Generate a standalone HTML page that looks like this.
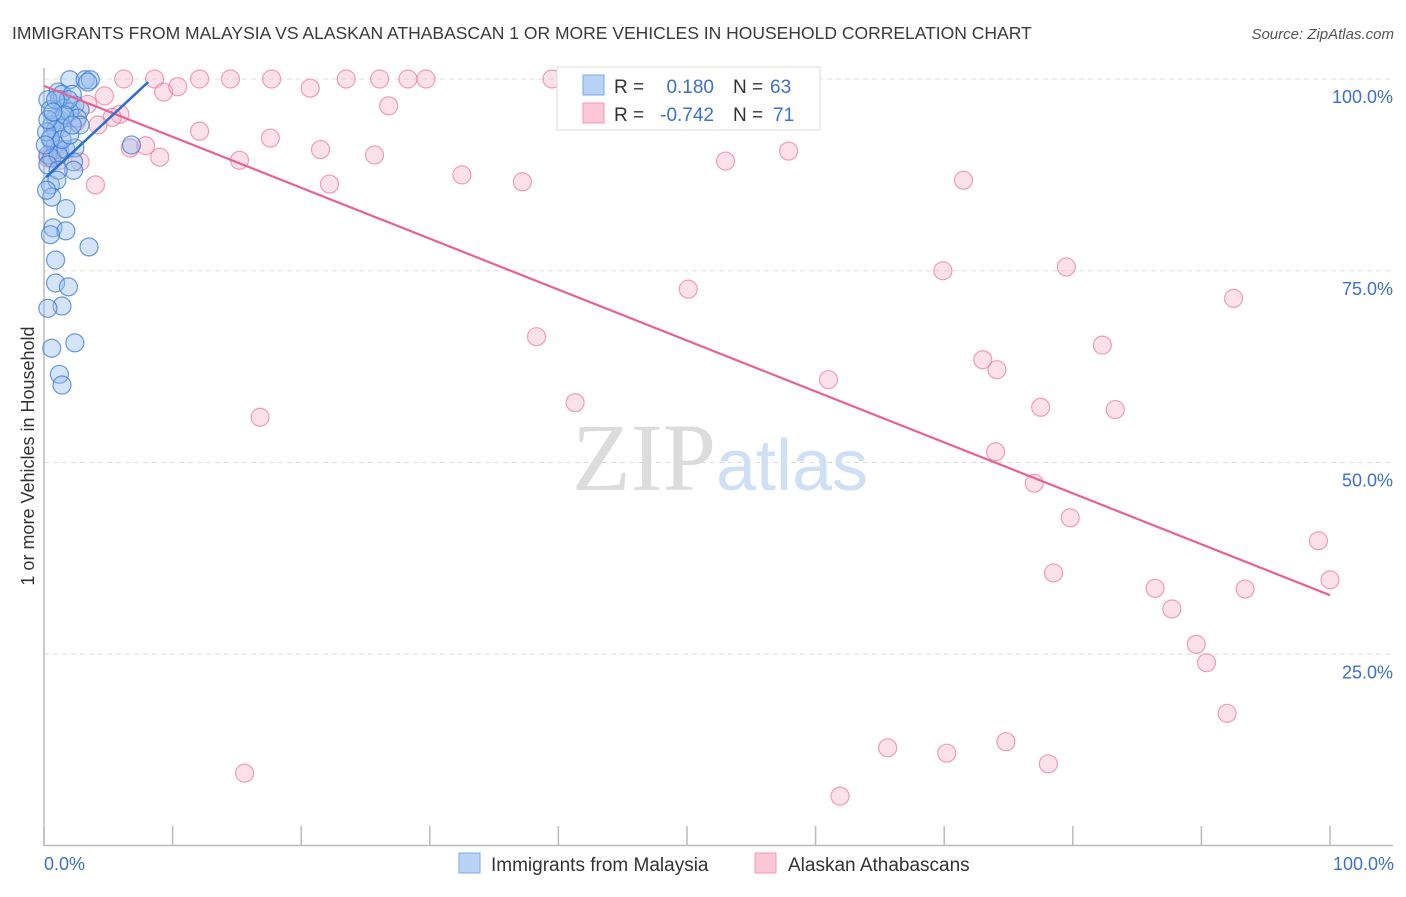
<!DOCTYPE html>
<html><head><meta charset="utf-8"><style>
body{margin:0;background:#fff;font-family:"Liberation Sans",sans-serif;}
svg text{font-family:"Liberation Sans",sans-serif;}
</style></head><body>
<svg id="chart" width="1406" height="892" xmlns="http://www.w3.org/2000/svg">
<text x="12" y="39" font-size="17.5" fill="#3a3a3a">IMMIGRANTS FROM MALAYSIA VS ALASKAN ATHABASCAN 1 OR MORE VEHICLES IN HOUSEHOLD CORRELATION CHART</text>
<text x="1394" y="39" font-size="15" fill="#555" text-anchor="end" font-style="italic">Source: ZipAtlas.com</text>
<text x="720" y="490" font-size="96" text-anchor="middle"><tspan fill="#dcdcdc" font-family="Liberation Serif">ZIP</tspan><tspan fill="#cfe0f5" font-size="72">atlas</tspan></text>
<g id="grid"></g>
<g id="axes"></g>
<g id="pts"></g>
<g id="lines"></g>
<text transform="translate(34,456) rotate(-90)" font-size="18" fill="#333" text-anchor="middle">1 or more Vehicles in Household</text>
<text x="44" y="870" font-size="18" fill="#3c6fd0">0.0%</text>
<text x="1394" y="870" font-size="18" fill="#3c6fd0" text-anchor="end">100.0%</text>
<g>
<rect x="557" y="67" width="263" height="63" fill="#fff" stroke="#ddd"/>
<rect x="583" y="75" width="21" height="20" fill="#b8d3f5" stroke="#7aa8e8"/>
<rect x="583" y="103" width="21" height="20" fill="#fcc7d6" stroke="#f09ab4"/>
<text x="614" y="93" font-size="19" fill="#333">R = </text><text x="714" y="93" font-size="19" fill="#3c6fd0" text-anchor="end">0.180</text>
<text x="733" y="93" font-size="19" fill="#333">N = </text><text x="770" y="93" font-size="19" fill="#3c6fd0">63</text>
<text x="614" y="121" font-size="19" fill="#333">R = </text><text x="714" y="121" font-size="19" fill="#3c6fd0" text-anchor="end">-0.742</text>
<text x="733" y="121" font-size="19" fill="#333">N = </text><text x="773" y="121" font-size="19" fill="#3c6fd0">71</text>
</g>
<g>
<rect x="459" y="853" width="21" height="20" fill="#b8d3f5" stroke="#7aa8e8"/>
<text x="491" y="871" font-size="19" fill="#333">Immigrants from Malaysia</text>
<rect x="755" y="853" width="21" height="20" fill="#fcc7d6" stroke="#f09ab4"/>
<text x="788" y="871" font-size="19" fill="#333">Alaskan Athabascans</text>
</g>
</svg>
<script>
const yTicks=[25,50,75,100];
const yTickLabels=["25.0%","50.0%","75.0%","100.0%"];
const xTicks=[0,10,20,30,40,50,60,70,80,90,100];
const blueX=[2.0,3.2,3.6,3.4,1.1,1.4,2.2,1.2,1.6,2.4,2.8,0.9,1.2,2.0,2.6,0.6,0.9,1.4,0.5,0.9,1.2,0.3,0.6,1.1,1.7,0.5,0.2,2.4,2.3,2.3,0.3,0.5,0.6,1.7,0.7,1.7,0.5,3.5,0.9,0.9,1.9,1.4,0.3,2.4,0.6,1.2,1.4,6.8,2.8,1.9,0.3,0.5,0.9,1.6,1.1,1.4,2.0,0.1,0.3,0.7,2.2,1.0,0.2];
const blueY=[99.9,99.9,99.9,99.6,98.3,98.0,98.0,97.3,96.2,96.6,96.0,94.9,94.7,95.7,94.9,94.0,93.4,93.6,92.1,91.4,90.8,90.1,89.7,90.1,90.8,92.3,93.1,91.0,89.2,88.1,88.8,86.2,84.6,83.1,80.6,80.2,79.7,78.1,76.4,73.4,72.9,70.4,70.1,65.6,64.9,61.5,60.1,91.4,94.0,97.3,97.3,96.0,97.3,95.3,88.1,92.1,92.7,91.4,94.7,95.7,94.0,86.8,85.5];
const pinkX=[6.2,8.6,12.1,14.5,17.7,23.5,26.1,28.3,29.7,39.5,9.3,10.4,4.7,3.4,5.9,5.3,4.2,2.5,12.1,17.6,6.7,7.9,9.0,15.2,21.5,25.7,2.8,4.0,22.2,32.5,37.2,53.0,57.9,71.5,20.7,26.8,69.9,79.5,92.5,50.1,38.3,73.0,74.1,82.3,61.0,41.3,16.8,77.5,83.3,74.0,77.0,79.8,99.1,100,78.5,86.4,93.4,87.7,89.6,90.4,92.0,65.6,70.2,74.8,78.1,61.9,15.6,0.5,0.9,1.2,0.3];
const pinkY=[100,100,100,100,100,100,100,100,100,100,98.3,99.0,97.8,96.7,95.4,95.0,94.0,94.4,93.2,92.3,91.0,91.3,89.8,89.4,90.8,90.1,89.2,86.2,86.3,87.5,86.6,89.3,90.6,86.8,98.8,96.5,75.0,75.5,71.4,72.6,66.4,63.4,62.1,65.3,60.8,57.8,55.9,57.2,56.9,51.4,47.3,42.8,39.8,34.7,35.6,33.6,33.5,30.9,26.3,23.9,17.3,12.8,12.1,13.6,10.7,6.5,9.5,89.7,90.8,89.4,89.7];
const blueTrend=[[0.15,87.2],[8.1,99.6]];
const pinkTrend=[[0,99.1],[100,32.7]];
const NS="http://www.w3.org/2000/svg";
const xs=v=>44+v*12.86;
const ys=v=>846-v*7.67;
function mk(tag,attrs,parent){const e=document.createElementNS(NS,tag);for(const k in attrs)e.setAttribute(k,attrs[k]);document.getElementById(parent).appendChild(e);return e;}
yTicks.forEach((t,i)=>{
 const l=mk('line',{x1:44,x2:1393,y1:ys(t),y2:ys(t),stroke:'#ddd','stroke-dasharray':'5,4'},'grid');
 
 
 const tx=mk('text',{x:1393,y:ys(t)+24,'font-size':18,fill:'#3c6fd0','text-anchor':'end'},'grid');
 tx.textContent=yTickLabels[i];
 
 
});
const ya=mk('line',{x1:44,x2:44,y1:68,y2:846,stroke:'#bbb','stroke-width':1.5},'axes');


const xa=mk('line',{x1:44,x2:1393,y1:845.5,y2:845.5,stroke:'#bbb','stroke-width':1.5},'axes');


xTicks.forEach(t=>{
 const l=mk('line',{x1:xs(t),x2:xs(t),y1:826,y2:846,stroke:'#bbb','stroke-width':1.5},'axes');
 
 
});
pinkX.forEach((x,i)=>{
 const c=mk('circle',{cx:xs(x),cy:ys(pinkY[i]),r:9,fill:'rgba(248,170,195,0.35)',stroke:'rgba(232,120,155,0.7)','stroke-width':1.2},'pts');
 
 
});
blueX.forEach((x,i)=>{
 const c=mk('circle',{cx:xs(x),cy:ys(blueY[i]),r:9,fill:'rgba(150,190,240,0.4)',stroke:'rgba(60,120,210,0.75)','stroke-width':1.2},'pts');
 
 
});
const pl=mk('line',{x1:xs(pinkTrend[0][0]),y1:ys(pinkTrend[0][1]),x2:xs(pinkTrend[1][0]),y2:ys(pinkTrend[1][1]),stroke:'#e8628f','stroke-width':2.2},'lines');


const bl=mk('line',{x1:xs(blueTrend[0][0]),y1:ys(blueTrend[0][1]),x2:xs(blueTrend[1][0]),y2:ys(blueTrend[1][1]),stroke:'#2a6fd0','stroke-width':2.5},'lines');


</script>
</body></html>
